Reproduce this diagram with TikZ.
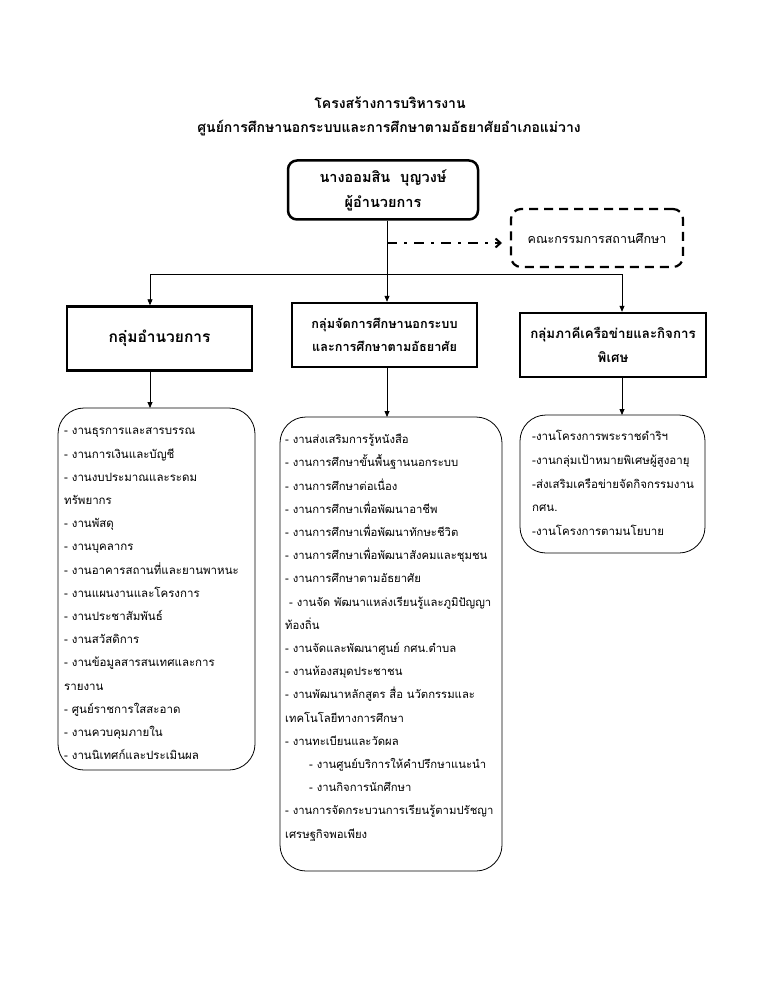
\documentclass[tikz,border=0pt]{standalone}
\usepackage{fontspec}
\newfontfamily\thai[Script=Thai]{Loma}
\usetikzlibrary{arrows.meta}
\begin{document}
\begin{tikzpicture}[x=1pt,y=-1pt,
  every node/.style={font=\thai},
  titletext/.style={font=\thai\bfseries\fontsize{14}{26}\selectfont, align=center},
  headbox/.style={draw, line width=2.5pt, rounded corners=9pt, minimum width=190, minimum height=59,
     align=center, font=\thai\bfseries\fontsize{14.5}{25}\selectfont},
  commbox/.style={draw, line width=2.2pt, dash pattern=on 9pt off 6pt, rounded corners=10pt,
     minimum width=172, minimum height=58, font=\thai\fontsize{12.5}{14}\selectfont},
  grpbox/.style={draw, line width=2.4pt, minimum width=185, minimum height=64, align=center,
     font=\thai\bfseries\fontsize{12.7}{23}\selectfont},
  listbox/.style={draw, line width=0.8pt, rounded corners=26pt},
  listtext/.style={anchor=north west, inner sep=0pt, align=left, font=\thai\fontsize{11.5}{23.2}\selectfont},
  conn/.style={line width=0.8pt, -{Triangle[length=6pt,width=5pt]}},
  plain/.style={line width=0.8pt},
  dd/.style={line width=2pt, dash pattern=on 10pt off 7pt on 3pt off 7pt, -{Straight Barb[length=5pt,width=9pt,line width=2pt]}}
]
\useasboundingbox[fill=white] (0,0) rectangle (773,1000);

% titles
\node[titletext] (t1) at (390,103) {โครงสร้างการบริหารงาน};
\node[titletext] (t2) at (389,128) {ศูนย์การศึกษานอกระบบและการศึกษาตามอัธยาศัยอำเภอแม่วาง};

% top box and committee
\node[headbox] (head) at (383,190) {นางออมสิน\ \ บุญวงษ์\\ผู้อำนวยการ};
\node[commbox] (comm) at (597,238) {คณะกรรมการสถานศึกษา};

% group boxes
\node[grpbox, font=\thai\bfseries\fontsize{15.5}{23}\selectfont] (g1) at (159.5,338.5) {กลุ่มอำนวยการ};
\node[grpbox] (g2) at (384.5,335) {กลุ่มจัดการศึกษานอกระบบ\\และการศึกษาตามอัธยาศัย};
\node[grpbox, minimum width=186, font=\thai\bfseries\fontsize{13.3}{24}\selectfont] (g3) at (613,345) {กลุ่มภาคีเครือข่ายและกิจการ\\พิเศษ};

% list boxes
\draw[listbox] (58,408) rectangle (255,770);
\draw[listbox] (280,417) rectangle (502,871);
\draw[listbox] (520,415) rectangle (705,553);
\coordinate (l1top) at (150,408);
\coordinate (l2top) at (387,417);
\coordinate (l3top) at (622,415);

% list texts
\node[listtext] (L1) at (64,428) {%
- งานธุรการและสารบรรณ\\
- งานการเงินและบัญชี\\
- งานงบประมาณและระดม\\
ทรัพยากร\\
- งานพัสดุ\\
- งานบุคลากร\\
- งานอาคารสถานที่และยานพาหนะ\\
- งานแผนงานและโครงการ\\
- งานประชาสัมพันธ์\\
- งานสวัสดิการ\\
- งานข้อมูลสารสนเทศและการ\\
รายงาน\\
- ศูนย์ราชการใสสะอาด\\
- งานควบคุมภายใน\\
- งานนิเทศก์และประเมินผล};

\node[listtext, font=\thai\fontsize{11.3}{23.2}\selectfont] (L2) at (285,434) {%
- งานส่งเสริมการรู้หนังสือ\\
- งานการศึกษาขั้นพื้นฐานนอกระบบ\\
- งานการศึกษาต่อเนื่อง\\
- งานการศึกษาเพื่อพัฒนาอาชีพ\\
- งานการศึกษาเพื่อพัฒนาทักษะชีวิต\\
- งานการศึกษาเพื่อพัฒนาสังคมและชุมชน\\
- งานการศึกษาตามอัธยาศัย\\
\hspace*{4pt}- งานจัด พัฒนาแหล่งเรียนรู้และภูมิปัญญา\\
ท้องถิ่น\\
- งานจัดและพัฒนาศูนย์ กศน.ตำบล\\
- งานห้องสมุดประชาชน\\
- งานพัฒนาหลักสูตร สื่อ นวัตกรรมและ\\
เทคโนโลยีทางการศึกษา\\
- งานทะเบียนและวัดผล\\
\hspace*{24pt}- งานศูนย์บริการให้คำปรึกษาแนะนำ\\
\hspace*{24pt}- งานกิจการนักศึกษา\\
- งานการจัดกระบวนการเรียนรู้ตามปรัชญา\\
เศรษฐกิจพอเพียง};

\node[listtext, font=\thai\fontsize{11.5}{23.8}\selectfont] (L3) at (532,430) {%
-งานโครงการพระราชดำริฯ\\
-งานกลุ่มเป้าหมายพิเศษผู้สูงอายุ\\
-ส่งเสริมเครือข่ายจัดกิจกรรมงาน\\
กศน.\\
-งานโครงการตามนโยบาย};

% connectors
\coordinate (vx) at (387,0);
\coordinate (branchL) at (150,274);
\coordinate (branchR) at (622,274);
\coordinate (ddstart) at (387,243);
\coordinate (ddend) at (502,243);
\draw[conn] (head.south -| vx) -- (g2.north -| vx);
\draw[plain] (branchL) -- (branchR);
\draw[conn] (branchL) -- (g1.north -| branchL);
\draw[conn] (branchR) -- (g3.north -| branchR);
\draw[dd] (ddstart) -- (ddend);
\draw[conn] (g1.south -| l1top) -- (l1top);
\draw[conn] (g2.south -| l2top) -- (l2top);
\draw[conn] (g3.south -| l3top) -- (l3top);
\end{tikzpicture}
\end{document}
